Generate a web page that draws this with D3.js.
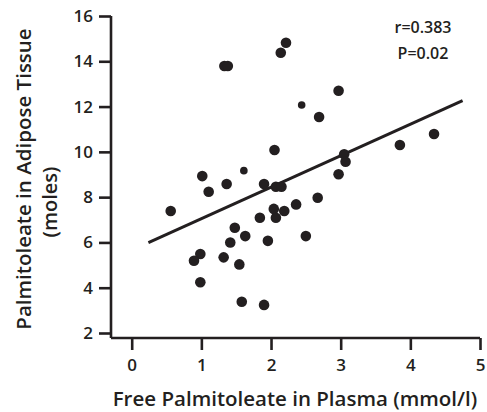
<!DOCTYPE html>
<html>
<head>
<meta charset="utf-8">
<script src="https://cdn.jsdelivr.net/npm/d3@7"></script>
<style>
  body { margin: 0; background: #fff; }
  svg text { font-family: "Open Sans", "Noto Sans", sans-serif; font-weight: 600; fill: #231f20; }
</style>
</head>
<body>
<script>
// free palmitoleate in plasma (mmol/l)
var plasma = [2.215, 2.14, 1.33, 1.38, 2.44, 2.05, 1.61, 1.013, 2.97, 2.69, 4.34, 3.85, 3.05, 3.07, 2.97,
  1.363, 1.105, 1.90, 2.07, 2.15, 0.56, 2.04, 2.19, 2.36, 2.07, 1.84, 1.48, 1.63, 1.415, 1.955,
  0.985, 0.894, 1.32, 1.545, 0.985, 1.58, 1.90, 2.67, 2.50];
// palmitoleate in adipose tissue (moles)
var tissue = [14.82, 14.38, 13.79, 13.79, 12.07, 10.08, 9.17, 8.93, 12.70, 11.54, 10.79, 10.30, 9.89, 9.56, 9.01,
  8.58, 8.24, 8.58, 8.46, 8.46, 7.39, 7.48, 7.39, 7.68, 7.09, 7.09, 6.65, 6.28, 6.0, 6.07,
  5.49, 5.19, 5.34, 5.03, 4.24, 3.38, 3.24, 7.97, 6.28];
// a few dots are drawn smaller in the original
var small = [4, 6];

var xTicks = [0, 1, 2, 3, 4, 5];
var yTicks = [2, 4, 6, 8, 10, 12, 14, 16];
var fitX = [0.24, 4.75];
var fitSlope = 1.39, fitIntercept = 5.66;
var stats = ["r=0.383", "P=0.02"];

var width = 487, height = 412;
var axisY = 338, axisX = 111;

var svg = d3.select('body').append('svg').attr('width', width).attr('height', height);

var x = d3.scaleLinear().domain([0, 5]).range([131.7, 480]);
var y = d3.scaleLinear().domain([2, 16]).range([333, 16]);

var ink = '#231f20';

// y axis
var gy = svg.append('g').attr('transform', 'translate(' + axisX + ',0)')
  .call(d3.axisLeft(y).tickValues(yTicks).tickFormat(d3.format('d')).tickSize(12).tickSizeOuter(0).tickPadding(6));
gy.select('.domain').attr('d', 'M0,' + y(16) + 'V' + axisY);

// x axis
var gx = svg.append('g').attr('transform', 'translate(0,' + axisY + ')')
  .call(d3.axisBottom(x).tickValues(xTicks).tickFormat(d3.format('d')).tickSize(12).tickSizeOuter(0).tickPadding(9));
gx.select('.domain').attr('d', 'M' + axisX + ',0H' + x(5));

svg.selectAll('.domain, .tick line').attr('stroke', ink).attr('stroke-width', 2.6);
svg.selectAll('.tick text').style('font-size', '17px').attr('fill', ink);

// axis titles
svg.append('text')
  .attr('transform', 'translate(31,179) rotate(-90)')
  .attr('text-anchor', 'middle')
  .style('font-size', '20.5px')
  .text('Palmitoleate in Adipose Tissue');
svg.append('text')
  .attr('transform', 'translate(57,202) rotate(-90)')
  .attr('text-anchor', 'middle')
  .style('font-size', '20px')
  .text('(moles)');
svg.append('text')
  .attr('x', 295).attr('y', 406)
  .attr('text-anchor', 'middle')
  .style('font-size', '20.5px')
  .text('Free Palmitoleate in Plasma (mmol/l)');

// regression line
svg.append('line')
  .attr('x1', x(fitX[0])).attr('y1', y(fitIntercept + fitSlope * fitX[0]))
  .attr('x2', x(fitX[1])).attr('y2', y(fitIntercept + fitSlope * fitX[1]))
  .attr('stroke', ink).attr('stroke-width', 3);

// points
svg.selectAll('circle')
  .data(plasma)
  .enter()
  .append('circle')
  .attr('cx', (d) => x(d))
  .attr('cy', (d, i) => y(tissue[i]))
  .attr('r', (d, i) => small.indexOf(i) >= 0 ? 3.8 : 5.3)
  .attr('fill', ink);

// correlation text
svg.selectAll('.stat')
  .data(stats)
  .enter()
  .append('text')
  .attr('class', 'stat')
  .attr('x', 423)
  .attr('y', (d, i) => 33 + i * 26)
  .attr('text-anchor', 'middle')
  .style('font-size', '16px')
  .text((d) => d);
</script>
</body>
</html>
